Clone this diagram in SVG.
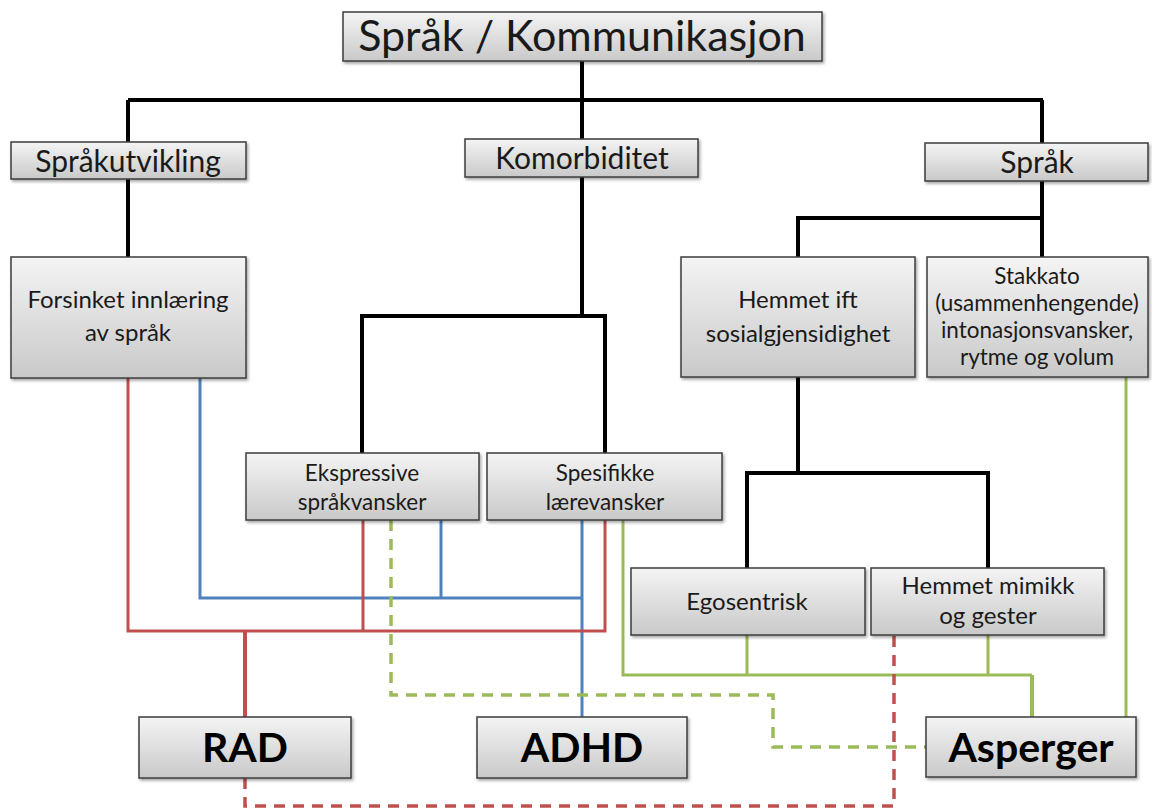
<svg xmlns="http://www.w3.org/2000/svg" width="1152" height="811" viewBox="0 0 1152 811">
<defs>
<linearGradient id="g" x1="0" y1="0" x2="0" y2="1">
<stop offset="0" stop-color="#f4f4f4"/>
<stop offset="1" stop-color="#c9c9c9"/>
</linearGradient>
<filter id="sh" x="-5%" y="-10%" width="110%" height="130%">
<feDropShadow dx="1.5" dy="2" stdDeviation="1.5" flood-color="#000" flood-opacity="0.35"/>
</filter>
<style>
.box{fill:url(#g);stroke:#3c3c3c;stroke-width:1.5;filter:url(#sh)}
text{font-family:Lato,"Open Sans","Liberation Sans",sans-serif;fill:#1a1a1a;text-anchor:middle}
.t1{font-size:43px}
.t2{font-size:30px}
.t3{font-size:24px}
.t4{font-size:22.5px}
.t5{font-size:41px;font-weight:bold;fill:#000}
.k{fill:none;stroke:#000;stroke-width:4;stroke-linejoin:miter}
.r{fill:none;stroke:#C0504D;stroke-width:3}
.b{fill:none;stroke:#4F81BD;stroke-width:3}
.gr{fill:none;stroke:#9BBB59;stroke-width:3}
.rd{fill:none;stroke:#C0504D;stroke-width:3.5;stroke-dasharray:11 8}
.gd{fill:none;stroke:#9BBB59;stroke-width:3.5;stroke-dasharray:11 8}
</style>
</defs>
<rect width="1152" height="811" fill="#fff"/>
<g id="connectors">
<path class="k" d="M582 61V100M128 100H1043M128 100V142M582 100V139M1042 100V143"/>
<path class="k" d="M128 179V257M582 177V316M362 453V316H605V453"/>
<path class="k" d="M1042 181V257M1042 218H798V257"/>
<path class="k" d="M798 377V473M747 568V473H988V568"/>
<path class="b" d="M200 378V598H582M441 520V598M582 520V717"/>
<path class="r" d="M128 378V631H605V520M363 520V631"/>
<path class="r" d="M245 631V717" style="stroke-width:4"/>
<path class="gr" d="M623 520V675H1032M747 635V675M988 635V675M1126 377V717"/>
<path class="gr" d="M1032 675V717" style="stroke-width:4"/>
<path class="gd" d="M391 520V695H773V747H926"/>
<path class="rd" d="M245 778V806H894V635"/>
</g>
<g id="n-title"><rect class="box" x="343" y="12" width="479" height="49"/><text class="t1" x="582" y="51">Språk / Kommunikasjon</text></g>
<g id="n-sprakutvikling"><rect class="box" x="11" y="142" width="235" height="37"/><text class="t2" x="128" y="172">Språkutvikling</text></g>
<g id="n-komorbiditet"><rect class="box" x="465" y="139" width="233" height="38"/><text class="t2" x="582" y="169">Komorbiditet</text></g>
<g id="n-sprak"><rect class="box" x="925" y="143" width="223" height="38"/><text class="t2" x="1037" y="173">Språk</text></g>
<g id="n-forsinket"><rect class="box" x="11" y="257" width="235" height="121"/><text class="t3" x="128" y="308">Forsinket innlæring</text><text class="t3" x="128" y="341">av språk</text></g>
<g id="n-hemmet-ift"><rect class="box" x="681" y="257" width="234" height="120"/><text class="t3" x="798" y="308">Hemmet ift</text><text class="t3" x="798" y="342">sosialgjensidighet</text></g>
<g id="n-stakkato"><rect class="box" x="927" y="257" width="221" height="120"/><text class="t4" x="1037" y="284">Stakkato</text><text class="t4" x="1037" y="311">(usammenhengende)</text><text class="t4" x="1037" y="338">intonasjonsvansker,</text><text class="t4" x="1037" y="365">rytme og volum</text></g>
<g id="n-ekspressive"><rect class="box" x="246" y="453" width="233" height="67"/><text class="t4" x="362" y="481">Ekspressive</text><text class="t4" x="362" y="510">språkvansker</text></g>
<g id="n-spesifikke"><rect class="box" x="487" y="453" width="235" height="67"/><text class="t4" x="605" y="481">Spesifikke</text><text class="t4" x="605" y="510">lærevansker</text></g>
<g id="n-egosentrisk"><rect class="box" x="631" y="568" width="234" height="67"/><text class="t3" x="747" y="610">Egosentrisk</text></g>
<g id="n-hemmet-mimikk"><rect class="box" x="871" y="568" width="233" height="67"/><text class="t3" x="988" y="594">Hemmet mimikk</text><text class="t3" x="988" y="624">og gester</text></g>
<g id="n-rad"><rect class="box" x="139" y="717" width="212" height="61"/><text class="t5" x="245" y="762">RAD</text></g>
<g id="n-adhd"><rect class="box" x="477" y="717" width="210" height="61"/><text class="t5" x="582" y="762">ADHD</text></g>
<g id="n-asperger"><rect class="box" x="926" y="717" width="210" height="60"/><text class="t5" x="1031" y="762">Asperger</text></g>
</svg>
